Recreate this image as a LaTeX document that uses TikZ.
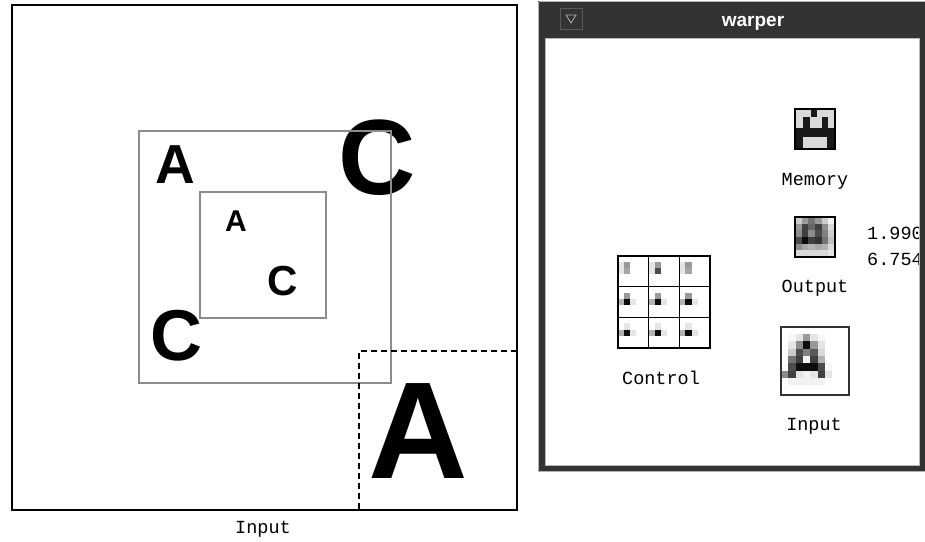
\documentclass[tikz,border=0pt]{standalone}
\usepackage{fontspec}
\newfontfamily\letterfont{Liberation Sans}[BoldFont={Liberation Sans Bold}]
\newfontfamily\monofont{Liberation Mono}
\definecolor{frame}{HTML}{333333}
\definecolor{sq}{HTML}{8C8C8C}
\tikzset{
  bigletter/.style={inner sep=0pt, anchor=base, font=\letterfont\bfseries},
  monolabel/.style={inner sep=0pt, anchor=base, font=\monofont\fontsize{18.5}{20}\selectfont},
  graysq/.style={draw=sq, line width=1.2pt},
  dashsq/.style={draw=black, line width=1.2pt, dash pattern=on 6pt off 4pt},
  panel/.style={draw=black, line width=1.4pt},
}
\begin{document}
\begin{tikzpicture}[x=1pt,y=-1pt]
\useasboundingbox (0,0) rectangle (925,541);
\fill[white] (0,0) rectangle (925,541);

% ---------------- left panel ----------------
\draw[panel] (12,5) rectangle (517,510);
\node[bigletter, font=\letterfont\bfseries\fontsize{55}{60}\selectfont] (a1) at (175.5,183) {A};
\node[bigletter, font=\letterfont\bfseries\fontsize{107}{110}\selectfont] (c1) at (377.5,194) {C};
\node[bigletter, font=\letterfont\bfseries\fontsize{30}{34}\selectfont] (a2) at (236,231) {A};
\node[bigletter, font=\letterfont\bfseries\fontsize{42}{46}\selectfont] (c2) at (283,295) {C};
\node[bigletter, font=\letterfont\bfseries\fontsize{72}{76}\selectfont] (c3) at (176,360) {C};
\node[bigletter, font=\letterfont\bfseries\fontsize{138}{142}\selectfont] (a3) at (418,478) {A};
\draw[graysq] (139,131) rectangle (391,383);
\draw[graysq] (200,192) rectangle (326,318);
\coordinate (d1) at (517,351);
\coordinate (d2) at (359,351);
\coordinate (d3) at (359,510);
\draw[dashsq] (d1) -- (d2) -- (d3);
\node[monolabel] (inL) at (263,533) {Input};

% ---------------- window ----------------
\fill[frame] (538,1) rectangle (925,472);
\draw[gray!60, line width=0.8pt] (538.5,1.5) -- (925,1.5);
\draw[gray!60, line width=0.8pt] (538.5,1.5) -- (538.5,472);
\draw[gray!60, line width=0.8pt] (538.5,471.5) -- (925,471.5);
\fill[white] (545,38) rectangle (919,465);
\draw[gray!55, line width=0.8pt] (545,38) rectangle (919,465);
% title bar
\draw[gray!70!black, line width=1pt] (560,8) rectangle (582,29);
\draw[gray!60, line width=0.8pt] (566,15) -- (576,15) -- (571,23) -- cycle;
\node[inner sep=0pt, anchor=base, text=white, font=\letterfont\bfseries\fontsize{19}{21}\selectfont] (title) at (753,26.5) {warper};

% Memory icon
\fill[black!15] (795,109) rectangle (835,149);
\fill[black!90] (811,110) rectangle (817,117);
\fill[black!90] (803,117) rectangle (809.5,137);
\fill[black!90] (822,117) rectangle (828,137);
\fill[black!90] (796,128) rectangle (834,137);
\fill[black!90] (796,137) rectangle (803,148);
\fill[black!90] (827,137) rectangle (834,148);
\draw[black, line width=1.3pt] (795,109) rectangle (835,149);
\node[monolabel] (mem) at (815,185) {Memory};

% Output icon
\foreach \row [count=\r from 0] in {{20,40,55,40,20,5},{40,75,60,75,45,15},{45,75,45,70,50,20},{70,95,75,80,55,25},{45,35,30,35,30,15},{15,15,15,15,15,10}}{
  \foreach \v [count=\c from 0] in \row {
    \fill[black!\v] ({795+\c*6.667},{217+\r*6.667}) rectangle ++(6.72,6.72);
  }
}
\draw[black, line width=1.3pt] (795,217) rectangle (835,257);
\node[monolabel] (out) at (815,292.5) {Output};
\begin{scope}
\clip (545,200) rectangle (918,280);
\node[monolabel, anchor=base west] (n1) at (867,239) {1.990};
\node[monolabel, anchor=base west] (n2) at (867,265.5) {6.754};
\end{scope}

% Control grid
\foreach \cr in {0,1,2}{
  \foreach \cc in {0,1,2}{
    \pgfmathsetmacro{\ox}{618+\cc*30.67}
    \pgfmathsetmacro{\oy}{256+\cr*30.67}
    \ifnum\cr=0
      \fill[black!10] ({\ox+0*6.13},{\oy+1*6.13}) rectangle ++(6.13,12.26);
      \fill[black!40] ({\ox+1*6.13},{\oy+1*6.13}) rectangle ++(6.13,6.13);
      \fill[black!35] ({\ox+1*6.13},{\oy+2*6.13}) rectangle ++(6.13,6.13);
    \fi
    \ifnum\cr=1
      \fill[black!40] ({\ox+1*6.13},{\oy+1*6.13}) rectangle ++(6.13,6.13);
      \fill[black!30] ({\ox+0*6.13},{\oy+2*6.13}) rectangle ++(6.13,6.13);
      \fill[black!10] ({\ox+2*6.13},{\oy+2*6.13}) rectangle ++(6.13,6.13);
      \fill[black!95] ({\ox+1*6.13},{\oy+2*6.13}) rectangle ++(6.13,6.13);
    \fi
    \ifnum\cr=2
      \fill[black!10] ({\ox+1*6.13},{\oy+1*6.13}) rectangle ++(6.13,6.13);
      \fill[black!30] ({\ox+0*6.13},{\oy+2*6.13}) rectangle ++(6.13,6.13);
      \fill[black!10] ({\ox+2*6.13},{\oy+2*6.13}) rectangle ++(6.13,6.13);
      \fill[black!95] ({\ox+1*6.13},{\oy+2*6.13}) rectangle ++(6.13,6.13);
    \fi
  }
}
\fill[black!70] (654.8,268.2) rectangle ++(6.13,6.13);
\foreach \k in {1,2}{
  \draw[black, line width=1.3pt] ({618+\k*30.67},256) -- ({618+\k*30.67},348);
  \draw[black, line width=1.3pt] (618,{256+\k*30.67}) -- (710,{256+\k*30.67});
}
\draw[black, line width=1.3pt] (618,256) rectangle (710,348);
\node[monolabel] (ctl) at (661,384) {Control};

% Input icon
\foreach \row [count=\r from 0] in {{0,3,10,40,10,3,0},{0,10,45,95,40,10,0},{0,20,70,50,65,15,0},{0,55,75,5,75,30,0},{0,70,95,95,95,70,3},{45,75,10,5,10,75,10},{0,5,5,5,5,5,0}}{
  \foreach \v [count=\c from 0] in \row {
    \fill[black!\v] ({781+\c*7.3},{334+\r*7.3}) rectangle ++(7.35,7.35);
  }
}
\draw[black!80, line width=1.3pt] (781,327) rectangle (849,395);
\node[monolabel] (inR) at (814,430.5) {Input};
\end{tikzpicture}
\end{document}
